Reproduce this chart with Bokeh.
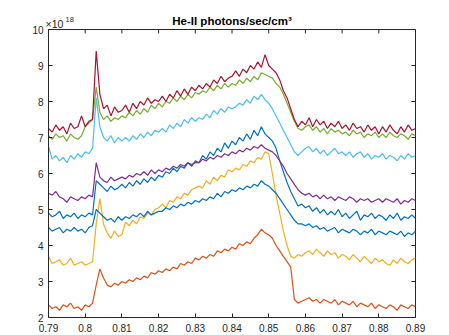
import math
from bokeh.plotting import figure
from bokeh.models import FixedTicker, CustomJSTickFormatter, Label, Range1d
from bokeh.embed import file_html
from bokeh.resources import INLINE

# x positions (every 0.001 from 0.79 to 0.89), values in units of 1e18
x_start, x_stop, x_step = 0.79, 0.89, 0.001
n_pts = 101
xs = [round(x_start + i * x_step, 3) for i in range(n_pts)]

blue_upper = [4.9,4.8,4.85,4.95,4.75,4.85,4.8,4.9,4.75,4.85,4.8,4.9,4.85,
              5.8,5.7,5.6,5.5,5.65,5.55,5.6,5.7,
              5.6,5.75,5.65,5.8,5.7,5.85,5.75,5.9,5.8,5.95,
              5.9,6.05,6.0,6.15,6.05,6.2,6.15,6.3,6.2,6.35,
              6.3,6.5,6.4,6.6,6.5,6.7,6.6,6.85,6.7,6.9,
              6.8,7.0,6.9,7.1,6.95,7.2,7.05,7.3,7.1,7.0,
              6.9,6.7,6.35,6.05,5.75,5.5,5.3,5.1,5.15,5.05,
              5.1,4.95,5.05,4.9,5.0,4.85,4.95,4.85,5.0,4.8,
              4.9,4.75,4.85,4.95,4.7,4.85,4.8,4.9,4.75,4.85,
              4.8,4.7,4.85,4.75,4.9,4.7,4.8,4.75,4.85,4.75]

orange = [2.35,2.25,2.3,2.2,2.35,2.3,2.4,2.25,2.3,2.2,2.35,2.3,2.4,
          2.9,3.35,3.1,2.9,2.85,2.95,2.9,3.0,
          2.95,3.05,3.0,3.1,3.05,3.15,3.1,3.25,3.2,3.3,
          3.25,3.35,3.3,3.4,3.35,3.5,3.45,3.55,3.5,3.65,
          3.6,3.7,3.65,3.75,3.7,3.85,3.8,3.9,3.85,3.95,
          3.9,4.05,4.0,4.1,4.05,4.2,4.3,4.45,4.35,4.3,
          4.2,4.0,3.85,3.7,3.55,3.4,2.5,2.4,2.45,2.5,
          2.55,2.45,2.5,2.4,2.5,2.45,2.4,2.5,2.35,2.45,
          2.4,2.35,2.45,2.3,2.4,2.35,2.3,2.4,2.25,2.35,
          2.3,2.25,2.35,2.3,2.2,2.35,2.3,2.25,2.35,2.3]

yellow = [3.7,3.5,3.55,3.6,3.45,3.5,3.65,3.45,3.5,3.55,3.45,3.5,3.55,
          4.6,5.3,4.6,4.35,4.2,4.4,4.25,4.3,
          4.65,4.55,4.7,4.6,4.8,4.75,4.9,4.85,5.0,5.05,
          5.15,5.05,5.25,5.2,5.35,5.3,5.45,5.4,5.55,5.6,
          5.65,5.6,5.8,5.7,5.9,5.8,5.95,5.9,6.1,6.05,
          6.15,6.1,6.25,6.2,6.35,6.3,6.45,6.4,6.6,6.55,
          6.0,5.4,4.9,4.4,4.0,3.7,3.65,3.75,3.7,3.8,
          3.85,3.75,3.9,3.8,3.7,3.85,3.75,3.8,3.65,3.75,
          3.7,3.6,3.75,3.65,3.55,3.7,3.6,3.5,3.65,3.55,
          3.6,3.5,3.45,3.6,3.5,3.65,3.55,3.5,3.6,3.65]

purple = [5.45,5.4,5.5,5.35,5.3,5.2,5.35,5.3,5.25,5.35,5.3,5.4,5.35,
          6.3,5.9,5.8,5.75,5.9,5.8,5.85,5.9,
          5.85,5.95,5.9,6.0,5.95,6.05,5.95,6.1,6.0,6.1,
          6.05,6.15,6.1,6.2,6.15,6.25,6.2,6.3,6.25,6.3,
          6.3,6.4,6.35,6.45,6.4,6.5,6.45,6.55,6.5,6.6,
          6.55,6.65,6.6,6.7,6.65,6.75,6.7,6.8,6.7,6.65,
          6.6,6.5,6.35,6.2,6.0,5.85,5.7,5.55,5.45,5.4,
          5.45,5.35,5.4,5.3,5.4,5.3,5.35,5.25,5.35,5.3,
          5.25,5.35,5.3,5.2,5.3,5.25,5.3,5.2,5.25,5.3,
          5.2,5.3,5.25,5.2,5.3,5.15,5.25,5.2,5.3,5.25]

green = [7.05,6.95,7.1,7.0,7.05,6.9,7.1,7.0,6.95,7.05,7.3,7.4,7.5,
         8.4,7.7,7.5,7.6,7.45,7.55,7.5,7.6,
         7.55,7.7,7.6,7.75,7.65,7.8,7.7,7.9,7.8,7.95,
         7.85,8.0,7.95,8.1,8.0,8.15,8.05,8.2,8.1,8.25,
         8.2,8.3,8.25,8.4,8.3,8.45,8.35,8.5,8.4,8.5,
         8.45,8.6,8.5,8.65,8.55,8.7,8.6,8.8,8.75,8.7,
         8.65,8.5,8.4,8.2,7.95,7.7,7.45,7.25,7.2,7.3,
         7.35,7.2,7.3,7.15,7.25,7.1,7.25,7.15,7.2,7.1,
         7.15,7.05,7.2,7.1,7.15,7.0,7.1,7.05,7.15,7.0,
         7.1,7.0,7.15,7.05,7.0,7.1,7.05,6.95,7.1,7.05]

light_blue = [6.75,6.4,6.5,6.35,6.45,6.3,6.5,6.4,6.55,6.45,6.6,6.55,6.7,
              8.1,7.3,7.0,6.9,7.05,6.85,7.0,6.9,
              7.0,6.9,7.05,6.95,7.1,7.0,7.15,7.05,7.2,7.15,
              7.25,7.15,7.35,7.25,7.4,7.3,7.5,7.4,7.55,7.45,
              7.55,7.5,7.65,7.55,7.75,7.65,7.8,7.7,7.85,7.8,
              7.85,7.95,7.9,8.05,7.95,8.15,8.05,8.2,8.05,7.95,
              7.8,7.6,7.4,7.2,7.0,6.8,6.6,6.5,6.6,6.7,
              6.75,6.6,6.7,6.55,6.65,6.5,6.6,6.7,6.55,6.6,
              6.5,6.6,6.45,6.55,6.6,6.45,6.55,6.4,6.5,6.45,
              6.55,6.4,6.5,6.45,6.35,6.5,6.4,6.55,6.45,6.5]

dark_red = [7.25,7.15,7.35,7.2,7.3,7.1,7.4,7.25,7.3,7.6,7.3,7.45,7.5,
            9.4,8.2,7.8,7.9,7.6,7.85,7.7,7.75,
            7.9,7.7,7.95,7.8,8.0,7.9,8.1,7.95,8.05,8.0,
            8.15,8.0,8.2,8.1,8.3,8.15,8.35,8.2,8.4,8.3,
            8.45,8.35,8.5,8.4,8.6,8.5,8.7,8.55,8.65,8.7,
            8.85,8.7,8.9,8.8,9.0,8.9,9.1,8.95,9.3,9.0,
            8.9,8.8,8.6,8.3,8.1,7.8,7.5,7.3,7.45,7.35,
            7.55,7.3,7.5,7.35,7.45,7.25,7.4,7.3,7.45,7.25,
            7.35,7.2,7.4,7.25,7.3,7.15,7.35,7.2,7.3,7.1,
            7.3,7.15,7.35,7.2,7.1,7.3,7.15,7.35,7.2,7.25]

blue_lower = [4.5,4.4,4.45,4.5,4.35,4.45,4.4,4.5,4.4,4.45,4.35,4.5,4.55,
              5.0,4.9,4.8,4.7,4.75,4.65,4.8,4.7,
              4.8,4.75,4.85,4.8,4.9,4.8,4.95,4.85,4.9,4.95,
              4.95,5.05,5.0,5.1,5.05,5.15,5.1,5.2,5.15,5.25,
              5.2,5.3,5.25,5.35,5.3,5.45,5.35,5.5,5.45,5.55,
              5.5,5.6,5.55,5.65,5.6,5.7,5.65,5.8,5.7,5.65,
              5.55,5.45,5.3,5.15,5.0,4.85,4.7,4.6,4.6,4.55,
              4.6,4.5,4.55,4.45,4.5,4.4,4.45,4.5,4.35,4.45,
              4.4,4.35,4.45,4.4,4.3,4.4,4.35,4.45,4.3,4.4,
              4.35,4.3,4.4,4.35,4.3,4.4,4.25,4.35,4.3,4.4]

series = [blue_upper, orange, yellow, purple, green, light_blue, dark_red, blue_lower]
colors = ["#0072BD", "#D95319", "#EDB120", "#7E2F8E", "#77AC30", "#4DBEEE", "#A2142F", "#0072BD"]

x_ticks = [0.79, 0.80, 0.81, 0.82, 0.83, 0.84, 0.85, 0.86, 0.87, 0.88, 0.89]
y_ticks = [2, 3, 4, 5, 6, 7, 8, 9, 10]
y_min, y_max = 2, 10
title_text = "He-II photons/sec/cm³"
exp_base = "×10"
exp_power = "18"

FONT = "Liberation Sans"
AX = "#262626"

p = figure(frame_width=367, frame_height=288, output_backend="svg", toolbar_location=None,
           x_range=Range1d(x_start, x_stop), y_range=Range1d(y_min, y_max),
           min_border_left=48, min_border_right=34, min_border_top=29, min_border_bottom=18,
           background_fill_color="white", border_fill_color="white")
p.grid.visible = False
p.outline_line_color = AX
p.outline_line_width = 1

p.title.text = title_text
p.title.align = "center"
p.title.text_font = FONT
p.title.text_font_size = "11.5px"
p.title.text_font_style = "bold"
p.title.text_color = "#000000"
p.title.standoff = 5

fmt = CustomJSTickFormatter(code="return String(Number(tick.toFixed(2)));")

for ax in (p.xaxis[0], p.yaxis[0]):
    ax.major_tick_in = 4
    ax.major_tick_out = 0
    ax.minor_tick_in = 0
    ax.minor_tick_out = 0
    ax.axis_line_color = AX
    ax.major_tick_line_color = AX
    ax.major_label_text_color = AX
    ax.major_label_text_font = FONT
    ax.major_label_text_font_size = "10px"
    ax.formatter = fmt
p.xaxis.major_label_standoff = 6
p.yaxis.major_label_standoff = 5
p.xaxis.ticker = FixedTicker(ticks=x_ticks)
p.yaxis.ticker = FixedTicker(ticks=y_ticks)

# mirrored inward ticks on top and right edges of the box
p.scatter(x_ticks, [y_max] * len(x_ticks), marker="dash", angle=math.pi / 2, size=8,
          line_color=AX, line_width=1)
p.scatter([x_stop] * len(y_ticks), y_ticks, marker="dash", size=8, line_color=AX, line_width=1)

for ys, c in zip(series, colors):
    p.line(xs, ys, line_color=c, line_width=1.2)

# exponent label, placed in the left side panel so it is not clipped to the frame
p.add_layout(Label(x=x_start, y=y_max, text=exp_base, text_font=FONT, text_font_size="10.5px",
                   text_color=AX, text_baseline="alphabetic", text_align="left",
                   x_offset=-3, y_offset=6), "left")
p.add_layout(Label(x=x_start, y=y_max, text=exp_power, text_font=FONT, text_font_size="7.5px",
                   text_color=AX, text_baseline="alphabetic", text_align="left",
                   x_offset=17, y_offset=10.5), "left")

open("out.html", "w").write(file_html(p, INLINE))
